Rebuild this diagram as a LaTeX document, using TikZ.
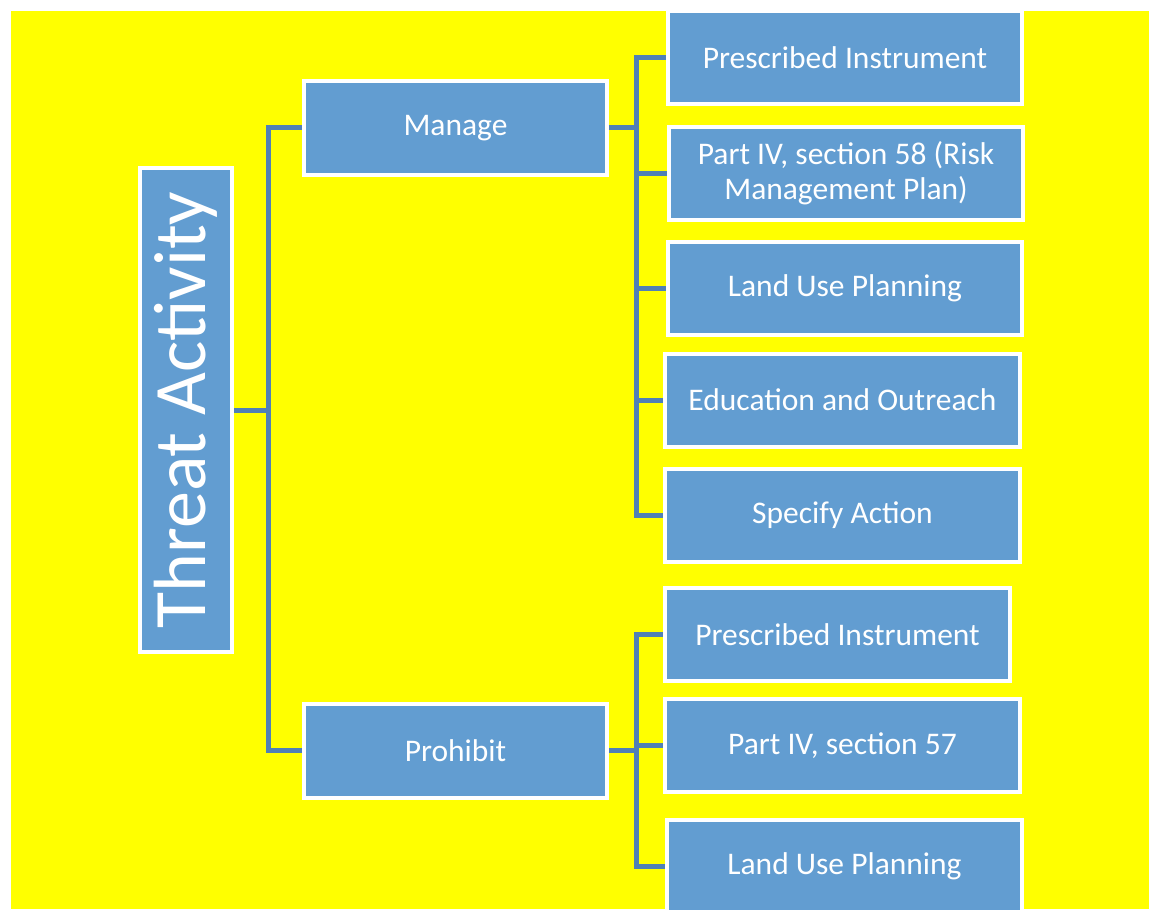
\documentclass[tikz,border=0pt]{standalone}
\usepackage{fontspec}
\setmainfont{Carlito}
\usepackage{tikz}
\usepackage{xcolor}
\definecolor{boxblue}{RGB}{98,157,209}
\definecolor{linkblue}{RGB}{80,128,182}
\definecolor{bgyellow}{RGB}{255,255,0}

\begin{document}
\begin{tikzpicture}[
    x=0.5pt, y=-0.5pt,
    box/.style={rectangle, draw=white, line width=2pt, fill=boxblue, text=white, minimum width=177pt, minimum height=46.5pt, align=center, font=\fontsize{15.75}{17.5}\selectfont},
    rootbox/.style={box, rotate=90, minimum width=242pt, minimum height=46pt, font=\fontsize{37}{40}\selectfont},
    link/.style={draw=linkblue, line width=2.5pt}
]

\useasboundingbox (0,0) rectangle (1149,909);
\clip (0,0) rectangle (1149,909);
\fill[bgyellow] (11,11) rectangle (1149,909);

% Root and the two branches
\node[rootbox] (threat) at (186,410) {Threat Activity};
\node[box, minimum width=151.5pt, minimum height=47pt] (manage) at (455.5,128) {Manage};
\node[box, minimum width=151.5pt, minimum height=47pt] (prohibit) at (455.5,750.5) {Prohibit};

% Manage options
\node[box] (mInstr) at (845,58) {Prescribed Instrument};
\node[box] (mRisk) at (846,173.5) {Part IV, section 58 (Risk\\Management Plan)};
\node[box] (mLand) at (845,288.5) {Land Use Planning};
\node[box, minimum width=177.5pt] (mEdu) at (842.5,400) {Education and Outreach};
\node[box, minimum width=177.5pt] (mAction) at (842.5,515) {Specify Action};

% Prohibit options
\node[box, minimum width=172.5pt] (pInstr) at (837.5,634.5) {Prescribed Instrument};
\node[box, minimum width=177.5pt] (pSect) at (842.5,745.5) {Part IV, section 57};
\node[box, minimum width=177.5pt] (pLand) at (844.5,866) {Land Use Planning};

% Connectors
\coordinate (tBus) at (268,410);
\coordinate (mBus) at (636,128);
\coordinate (pBus) at (636,750.5);

\draw[link] (threat.south) -- (tBus) |- (manage.west);
\draw[link] (tBus) |- (prohibit.west);

\draw[link] (manage.east) -- (mBus);
\foreach \n in {mInstr,mRisk,mLand,mEdu,mAction}
    \draw[link] (mBus) |- (\n.west);

\draw[link] (prohibit.east) -- (pBus);
\foreach \n in {pInstr,pSect,pLand}
    \draw[link] (pBus) |- (\n.west);

\end{tikzpicture}
\end{document}
